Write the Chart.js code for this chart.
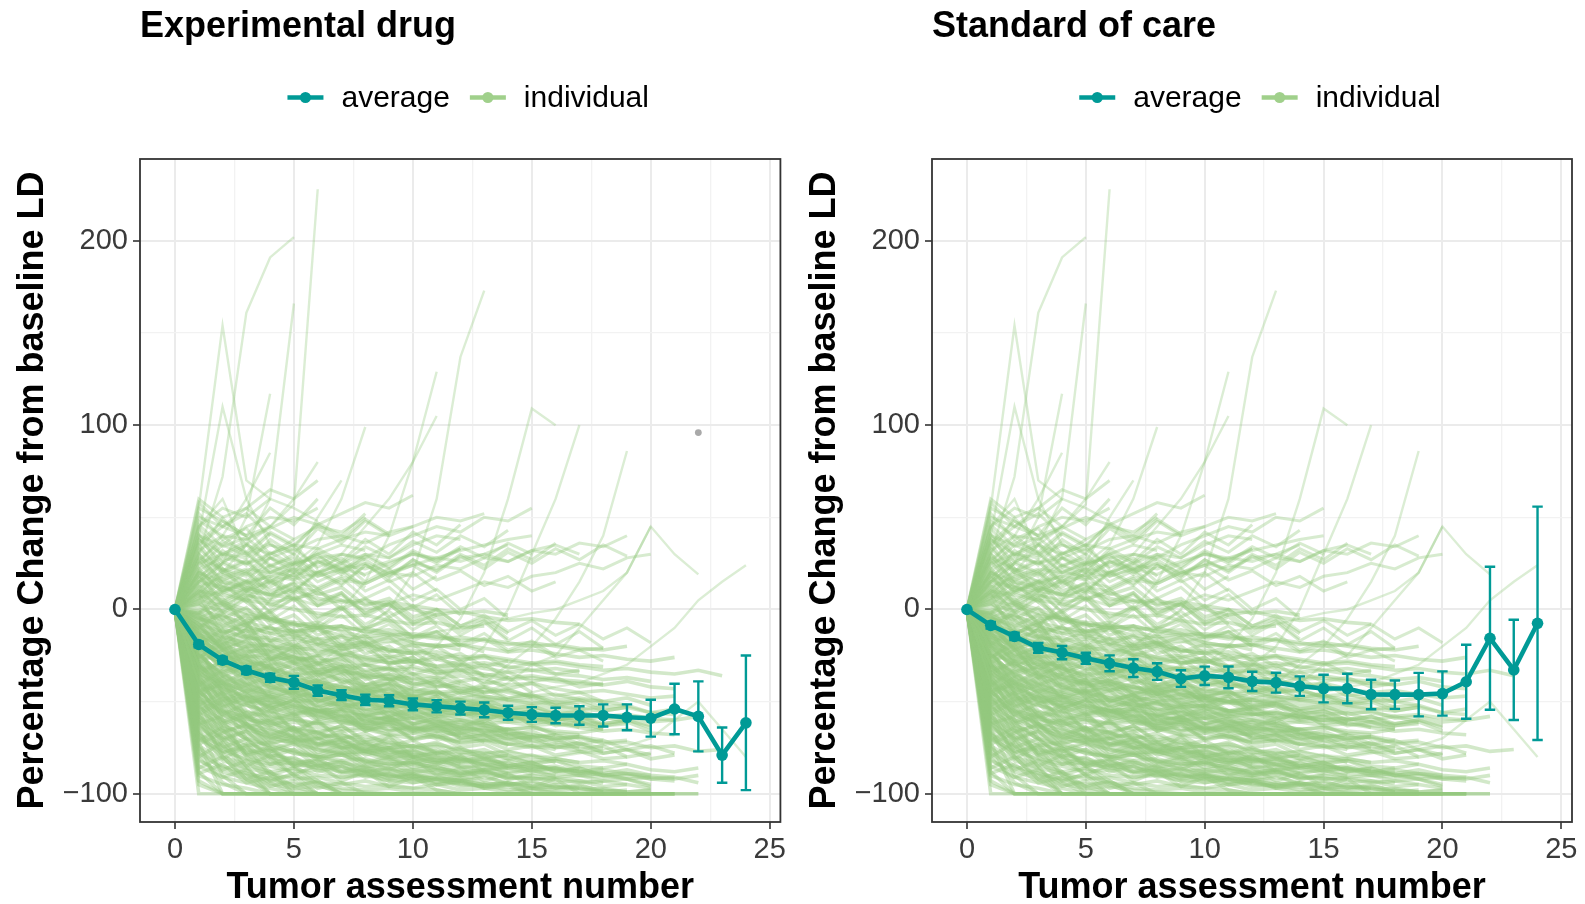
<!DOCTYPE html>
<html><head><meta charset="utf-8">
<script src="https://cdn.jsdelivr.net/npm/chart.js@4.4.1/dist/chart.umd.min.js"></script>
<style>
html,body{margin:0;padding:0;background:#fff;}
#wrap{position:relative;width:1585px;height:904px;overflow:hidden;background:#fff;}
canvas{position:absolute;top:0;}
#c1{left:0;width:792px;height:904px;}
#c2{left:792px;width:793px;height:904px;}
</style></head><body>
<div id="wrap"><canvas id="c1" width="792" height="904"></canvas><canvas id="c2" width="793" height="904"></canvas></div>
<script>
// ---------------- data ----------------
const panelTitles = ['Experimental drug', 'Standard of care'];
const legendLabels = ['average', 'individual'];
const xAxisTitle = 'Tumor assessment number';
const yAxisTitle = 'Percentage Change from baseline LD';
const assessmentNumbers = [0,1,2,3,4,5,6,7,8,9,10,11,12,13,14,15,16,17,18,19,20,21,22,23,24];
const xTickValues = [0,5,10,15,20,25];
const xTickLabels = ['0','5','10','15','20','25'];
const yTickValues = [-100,0,100,200];
const yTickLabels = ['\u2212100','0','100','200'];

// average % change and error-bar half widths
const expAverage = [0,-19,-27.5,-33,-37,-39.5,-44,-46.5,-49,-49.5,-51.5,-52.5,-53.5,-54.5,-56,-57,-57.5,-57.5,-57.5,-58.5,-59,-54,-58,-79,-61.5];
const expError   = [0,1.5,1.8,2,2.2,3.5,2.8,2.7,2.8,3,3.2,3.3,3.5,4,3.8,4,4.2,5,6,7,10,13.7,19,15,36.5];
const socAverage = [0,-8.6,-14.6,-20.8,-23.4,-26.5,-29.2,-31.8,-33.7,-37.5,-36,-36.8,-39,-39.7,-41.6,-42.9,-42.9,-46.1,-46.2,-46.2,-45.6,-39.2,-15.6,-32.8,-7.5];
const socError   = [0,1.8,2,2.7,3.6,3,4.3,4.8,4.5,4.5,5,5.9,5.2,5.4,5.3,7.5,8,8,7.7,11.8,12,20.1,38.8,27.2,63.3];
const expStrayPoint = [{x:22, y:96}];

// individual patient trajectories (value at assessment 0,1,2,...)
const completeResponders = [
 [0,-100,-100,-100,-100,-100,-100,-100,-100,-100,-100,-100,-100,-100,-100,-100,-100,-100,-100],
 [0,-72,-100,-100,-100,-100,-100,-100,-100,-100,-100,-100,-100,-100,-100,-100,-100,-100,-100,-100,-100,-100],
 [0,-55,-80,-92,-100,-100,-100,-100,-100,-100,-100,-100,-100,-100,-100,-100],
 [0,-40,-65,-78,-88,-100,-100,-100,-100,-100,-100,-100,-100,-100,-100,-100,-100,-100,-100,-100],
 [0,-88,-100,-100,-100,-100,-100,-100,-100,-100,-100,-100],
 [0,-30,-52,-70,-81,-90,-100,-100,-100,-100,-100,-100,-100,-100,-100,-100,-100,-100,-100,-100,-100,-100,-100],
 [0,-65,-90,-100,-100,-100,-100,-100,-100,-100,-100,-100,-100,-100,-100,-100,-100,-100,-100,-100,-100],
 [0,-45,-70,-85,-100,-100,-100,-100,-100,-100,-100,-100,-100,-100,-100,-100,-100,-100],
 [0,-20,-45,-62,-75,-85,-93,-100,-100,-100,-100,-100,-100,-100,-100,-100,-100,-100,-100,-100,-100],
 [0,-78,-94,-100,-100,-100,-100,-100,-100,-100,-100,-100,-100,-100,-100,-100,-100,-100,-100,-100,-100,-100,-100],
 [0,-50,-74,-87,-94,-100,-100,-100,-100,-100,-100,-100,-100,-100],
 [0,-35,-60,-80,-90,-96,-100,-100,-100,-100,-100,-100,-100,-100,-100,-100,-100,-100,-100,-100,-100,-100],
 [0,-93,-100,-100,-100,-100,-100,-100,-100],
 [0,-60,-78,-89,-100,-100,-100,-100,-100,-100,-100,-100,-100,-100,-100,-100,-100,-100,-100,-100,-100,-100]
];
const deepResponders = [
 [0,-48,-62,-70,-74,-78,-80,-83,-85,-86,-88,-87,-90,-89,-91,-92,-92,-94,-93,-95],
 [0,-58,-70,-76,-79,-81,-84,-83,-86,-88,-87,-89,-90,-88,-91,-90,-92],
 [0,-38,-55,-63,-70,-72,-76,-79,-78,-82,-84,-83,-86,-85,-88,-87,-89,-90,-91,-90,-92,-93],
 [0,-70,-80,-84,-88,-86,-90,-91,-89,-93,-94,-92,-95,-96,-94,-97,-96,-98,-97,-99,-98],
 [0,-30,-42,-55,-61,-66,-70,-68,-73,-75,-74,-78,-77,-80,-79,-82,-81,-83],
 [0,-52,-66,-73,-77,-76,-80,-82,-81,-84,-83,-86,-88,-87,-85],
 [0,-25,-40,-50,-58,-64,-67,-71,-74,-76,-79,-78,-81,-83,-82,-85,-86,-88,-87,-89,-90],
 [0,-62,-75,-82,-85,-88,-87,-91,-90,-93,-92,-95,-94,-96],
 [0,-44,-57,-64,-67,-72,-70,-75,-77,-76,-80,-82,-81,-84,-86,-85,-87,-89,-88],
 [0,-35,-48,-58,-65,-69,-73,-76,-75,-79,-81,-80,-84,-82,-85,-87,-86,-88,-90,-89,-91,-92,-90],
 [0,-66,-77,-81,-84,-83,-86,-88,-90,-89,-92,-91,-93,-95,-94,-96,-95,-97],
 [0,-28,-46,-57,-64,-70,-74,-72,-77,-80,-79,-82,-84],
 [0,-55,-63,-68,-72,-71,-75,-78,-77,-80,-81,-83,-82,-84,-86,-85,-87,-88,-86],
 [0,-42,-60,-71,-78,-82,-85,-84,-88,-90,-89,-92,-93,-91,-94],
 [0,-75,-85,-89,-92,-90,-94,-95,-93,-96,-97,-95,-98,-97,-99,-98,-99,-100,-98,-99]
];
const moderateResponders = [
 [0,-20,-32,-38,-42,-45,-48,-50,-52,-51,-54,-55,-57,-56,-58,-60,-59,-61,-62,-60,-63],
 [0,-35,-40,-44,-47,-50,-49,-52,-54,-53,-55,-57,-56,-58,-59],
 [0,-15,-25,-30,-35,-38,-40,-43,-42,-45,-47,-46,-49,-50,-52,-51,-53,-54,-55,-53,-56,-57],
 [0,-40,-48,-52,-55,-58,-57,-60,-62,-61,-64,-63,-66,-65,-67,-68,-70,-69],
 [0,-28,-36,-41,-45,-44,-48,-47,-50,-53,-52,-55,-54],
 [0,-10,-20,-28,-33,-37,-41,-44,-46,-48,-47,-50,-52,-51,-54,-53,-55,-56,-58,-57,-59,-60,-58],
 [0,-45,-52,-56,-58,-60,-62,-61,-63,-65,-64,-66,-68,-67,-69,-70],
 [0,-22,-30,-35,-38,-40,-42,-45,-44,-46,-48,-50,-49,-51],
 [0,-32,-42,-47,-51,-54,-56,-55,-58,-60,-59,-62,-61,-63,-65,-64,-66,-67,-65],
 [0,-18,-27,-33,-36,-40,-39,-42,-44,-43,-46,-45,-48,-47,-49,-51,-50,-52],
 [0,-38,-46,-50,-49,-53,-55,-54,-57,-56,-59,-58,-60,-62,-61,-63,-62,-64,-66,-65,-67,-68],
 [0,-25,-35,-40,-44,-43,-47,-49,-48,-51,-53],
 [0,-12,-22,-30,-37,-41,-45,-48,-51,-53,-52,-55,-57,-56,-58,-60,-59,-61,-63,-62],
 [0,-48,-55,-58,-62,-61,-64,-66,-65,-68,-67,-70,-72,-71,-73,-74,-73,-75],
 [0,-30,-38,-43,-46,-49,-52,-51,-54,-56,-55,-58,-57,-59,-61,-60,-62,-63,-64]
];
const stableDisease = [
 [0,-10,-15,-18,-20,-22,-21,-24,-26,-25,-28,-27,-30,-29,-31,-33,-32,-34],
 [0,-5,-8,-12,-10,-14,-16,-15,-18,-17,-20,-19,-22],
 [0,5,2,-3,-6,-8,-10,-9,-12,-14,-13,-15,-17,-16,-18,-20,-19,-21,-22,-20],
 [0,-18,-22,-25,-27,-26,-29,-31,-30,-33,-32,-35,-34,-36,-38,-37,-39,-40,-41,-39,-42,-43],
 [0,10,8,5,3,0,-2,-4,-3,-6,-8,-7,-10,-9],
 [0,-2,-6,-9,-13,-15,-18,-20,-19,-22,-24,-23,-26,-25,-27,-29,-28,-30,-31],
 [0,15,12,10,8,6,9,5,3,4,2,0,-2,-1,-3],
 [0,-12,-18,-20,-19,-23,-25,-24,-27,-29,-28,-31,-30,-32,-34,-33,-35,-36,-38,-37,-39],
 [0,-25,-28,-30,-29,-32,-34,-33,-36,-35,-38,-37,-40],
 [0,0,-4,-7,-10,-12,-11,-14,-16,-15,-18,-20,-19,-21,-23,-22,-24,-26,-25,-27,-28,-26],
 [0,8,3,-2,-5,-7,-9,-11,-10,-13,-15,-14,-17],
 [0,-15,-20,-23,-22,-26,-28,-27,-30,-32,-31,-34,-33,-35,-37,-36,-38,-39,-41],
 [0,20,15,12,8,10,6,4,5,2,0,-3,-1,-4,-6,-5,-7,-8],
 [0,-8,-12,-15,-17,-16,-19,-21,-20,-23,-22,-25,-27,-26,-28,-30,-29,-31,-33,-32,-34,-35,-33,-36],
 [0,3,-1,-5,-4,-8,-10,-9,-12,-11,-14,-16,-15,-17,-19,-18,-20,-22,-21]
];
const progressors = [
 [0,20,30,38,45,57,228],
 [0,30,72,161,191,202],
 [0,55,154,70,60,55,48],
 [0,40,110,60,35,30],
 [0,10,25,50,117],
 [0,15,20,35,60,166],
 [0,-10,0,10,15,25,35,60,99],
 [0,-20,-25,-30,-28,-20,-10,0,15,40,80,129],
 [0,-5,-10,-8,0,10,20,30,45,60,80,105],
 [0,-30,-40,-45,-40,-35,-30,-20,-10,0,20,60,137,173],
 [0,-25,-35,-40,-45,-48,-50,-48,-45,-40,-30,-20,-5,20,60,109,100],
 [0,-30,-40,-45,-50,-52,-55,-53,-50,-48,-45,-40,-30,-20,0,30,60,100],
 [0,-35,-50,-55,-58,-60,-62,-60,-58,-55,-52,-50,-45,-40,-30,-20,-5,15,40,86],
 [0,-40,-55,-60,-62,-65,-66,-64,-60,-58,-55,-50,-48,-45,-40,-30,-25,-10,5,20,45],
 [0,25,40,60,85],
 [0,45,60,30,20],
 [0,30,50,35,45,60,80],
 [0,-15,-20,-10,5,25,50,70],
 [0,-30,-45,-50,-52,-55,-57,-55,-58,-60,-58,-55,-52,-50,-48,-45,-42,-40,-35,-30,-20,-10,5,15,24],
 [0,-40,-55,-62,-65,-68,-70,-72,-71,-73,-75,-74,-76,-78,-77,-79,-80,-78,-76,-74,-70,-60,-50,-65,-80],
 [0,-20,-28,-32,-30,-28,-25,-22,-20,-18,-15,-12,-10,-8,-5,-2,0,5,10,20,45,30,19]
];
const coreTrajectories = [
 [0,-62,-58,-66,-70,-68,-72,-75,-73,-77,-80,-78],
 [0,-8,-22,-35,-41,-47,-52,-58,-60,-63,-66,-65,-69,-71,-70,-74,-76],
 [0,-33,-29,-37,-35,-40,-44,-42,-46,-49,-47,-50,-53,-52,-55,-57,-56,-60,-58,-61],
 [0,-82,-88,-92,-95,-97,-96,-98,-99,-100,-100,-100,-100,-100,-100,-100,-100,-100],
 [0,-4,-12,-10,-17,-21,-19,-25,-28,-26,-30],
 [0,-50,-57,-61,-60,-65,-67,-70,-69,-72,-74,-73,-76,-78,-77,-80,-81,-83,-82,-84],
 [0,-16,-24,-28,-31,-35,-34,-38,-41,-40,-43,-45,-44,-47,-49],
 [0,-68,-74,-79,-83,-85,-84,-88,-87,-90,-92,-91,-93,-95,-94,-96,-97,-96,-98,-99,-98],
 [0,2,-6,-14,-20,-26,-30,-33,-37,-36,-40,-42,-41,-45],
 [0,-42,-50,-46,-53,-57,-55,-60,-63,-61,-64,-66,-65,-68,-70,-69,-72,-73,-75],
 [0,-27,-34,-31,-38,-42,-40,-45,-47,-46,-49,-51,-50],
 [0,-56,-64,-70,-74,-78,-80,-79,-83,-85,-84,-87,-89,-88,-90,-92,-91,-93,-94],
 [0,-14,-18,-26,-24,-29,-33,-31,-36,-38,-37,-41,-43,-42,-45,-47,-46,-49,-50,-48,-52],
 [0,-36,-44,-49,-53,-56,-55,-59,-62,-61,-65,-64,-67,-69,-68,-71],
 [0,-90,-95,-97,-100,-100,-100,-100,-100,-100,-100,-100,-100,-100,-100,-100,-100,-100,-100,-100],
 [0,-6,-3,-9,-13,-11,-16,-19,-18,-22,-24],
 [0,-46,-54,-59,-63,-66,-69,-68,-72,-75,-74,-77,-79,-78,-81,-83,-82,-85,-86,-84,-87,-88,-86],
 [0,-21,-31,-37,-42,-46,-50,-53,-55,-58,-57,-61,-60,-63,-65,-64,-67,-68],
 [0,-74,-82,-86,-89,-92,-91,-94,-96,-95,-97,-98,-100,-100,-100,-100],
 [0,-11,-16,-21,-25,-28,-32,-35,-34,-38,-40,-39,-43,-45,-44,-47,-49,-48,-50,-52],
 [0,-58,-66,-63,-68,-71,-70,-74,-76,-75,-78],
 [0,-31,-39,-45,-50,-54,-58,-61,-64,-66,-65,-69,-71,-70,-73,-75,-74,-77,-78,-76,-79],
 [0,-2,4,0,-5,-9,-7,-12,-15,-13,-18,-20,-19,-23],
 [0,-52,-60,-65,-69,-73,-76,-78,-77,-81,-83,-82,-85,-87,-86,-89,-90],
 [0,-19,-27,-25,-32,-36,-34,-39,-42,-41,-44,-46,-45,-48,-50,-49,-52,-54,-53],
 [0,-39,-47,-52,-56,-59,-62,-65,-64,-68,-70,-69,-72],
 [0,-64,-72,-77,-81,-84,-86,-85,-89,-91,-90,-93,-94,-96,-95,-97,-98,-97,-99],
 [0,-24,-36,-43,-48,-52,-55,-57,-60,-59,-62,-64,-63,-66,-68],
 [0,-7,-14,-19,-23,-27,-26,-30,-33,-32,-35,-37,-36,-39,-41,-40,-43,-45,-44,-46,-48,-47],
 [0,-85,-91,-94,-97,-100,-100,-100,-100,-100,-100,-100,-100,-100],
 [0,-44,-41,-48,-52,-50,-55,-58,-57,-60,-62,-61,-64,-66,-65,-68,-70,-69,-71],
 [0,-29,-37,-42,-46,-45,-49,-52,-51,-55,-57,-56,-59,-61],
 [0,-70,-77,-75,-80,-83,-82,-86,-88,-87,-90,-92,-91,-94,-95,-94,-96,-97,-99,-98],
 [0,-13,-21,-27,-32,-36,-39,-42,-45,-44,-48,-50,-49,-53,-55,-54,-57],
 [0,-48,-56,-62,-66,-70,-73,-72,-76,-78,-77,-80,-82,-81,-84,-86,-85,-88,-89,-87,-90,-91],
 [0,-3,-10,-16,-15,-20,-23,-22,-26,-29,-28,-31],
 [0,-60,-69,-74,-72,-77,-80,-79,-82,-84,-83,-86,-88,-87,-89],
 [0,-34,-43,-48,-47,-52,-55,-54,-58,-60,-59,-63,-65,-64,-67,-69,-68,-70,-72,-71],
 [0,-17,-29,-36,-40,-44,-43,-47,-50,-49,-53,-55,-54,-57,-59,-58,-61],
 [0,-78,-86,-90,-93,-95,-94,-97,-98,-97,-99,-100,-100,-100,-100,-100,-100,-100,-100,-100,-100,-100]
];
const jaggedTrajectories = [
 [0,-12,-30,-25,-41,-38,-55,-49,-62,-58,-66,-61,-70,-68,-74],
 [0,-47,-39,-58,-52,-67,-60,-71,-77,-69,-80,-84,-79,-88],
 [0,8,-14,-6,-27,-20,-35,-31,-44,-40,-52,-47,-56,-61,-55,-63,-68],
 [0,-67,-81,-74,-90,-86,-95,-100,-100,-100,-100,-100,-100,-100,-100,-100,-100,-100,-100,-100],
 [0,-26,-19,-37,-30,-45,-41,-50,-46,-58,-53,-60,-64,-59,-67,-72,-70,-76,-74,-80,-78],
 [0,-3,-18,-11,-26,-33,-29,-40,-36,-47,-43],
 [0,-55,-48,-62,-71,-65,-78,-73,-82,-87,-81,-90,-86,-93,-89,-96,-92,-100],
 [0,17,6,-8,-2,-15,-10,-22,-18,-30,-26,-35,-32,-41,-37,-45],
 [0,-38,-52,-47,-60,-56,-68,-63,-72,-70,-77,-74,-81,-79,-85,-83,-88,-86,-90,-92,-95],
 [0,-80,-72,-85,-79,-90,-84,-93,-88,-96,-91,-98,-100,-100,-100],
 [0,-9,-21,-16,-28,-24,-36,-30,-41,-37,-48,-44,-53,-50,-57,-55,-60,-58,-63,-61,-66],
 [0,-32,-44,-39,-51,-47,-58,-54,-65,-61,-70],
 [0,30,14,4,-5,-12,-9,-20,-17,-26,-23,-31,-28,-36],
 [0,-60,-71,-66,-77,-73,-82,-78,-86,-83,-89,-87,-92,-90,-95,-93,-97,-95,-99],
 [0,-18,-34,-28,-43,-38,-50,-46,-57,-53,-62,-59,-67,-64,-71,-69,-75,-72,-78,-76,-81,-79],
 [0,-41,-33,-46,-54,-49,-60,-57,-66,-62,-71,-68,-75,-73,-79],
 [0,-95,-100,-100,-100,-100,-100,-100,-100,-100,-100,-100,-100,-100,-100,-100,-100,-100,-100,-100,-100],
 [0,4,-9,-3,-17,-12,-24,-19,-30,-27,-35,-32,-39,-37,-43,-40,-47,-45,-50],
 [0,-23,-40,-34,-49,-45,-56,-51,-61,-58,-65,-63,-69],
 [0,-71,-64,-78,-75,-84,-81,-88,-85,-91,-89,-94,-92,-97,-95,-100,-100,-100,-100],
 [0,22,9,15,2,8,-4,1,-10,-6,-15,-12,-20],
 [0,-49,-61,-56,-69,-64,-74,-70,-79,-76,-83,-80,-86,-84,-89,-87,-91,-90,-93,-92,-96],
 [0,-14,-26,-21,-34,-29,-39,-35,-46,-42,-51,-48,-55,-52,-59,-57,-62],
 [0,-86,-80,-92,-88,-96,-93,-100,-100,-100,-100,-100,-100],
 [0,-35,-28,-41,-36,-48,-44,-54,-50,-59,-56,-63,-61,-67,-65,-70,-68,-73,-71,-76,-74,-78],
 [0,-1,-13,-8,-22,-17,-29,-25,-34,-31,-39],
 [0,-58,-67,-62,-73,-69,-79,-75,-83,-80,-86,-84,-89,-87,-92,-90],
 [0,12,-2,6,-8,-3,-14,-9,-19,-15,-24,-20,-28,-25,-32,-29,-35,-33],
 [0,-44,-57,-51,-63,-59,-70,-66,-75,-72,-79,-76,-82,-80,-85,-83,-88,-86,-90,-89,-92,-91,-94],
 [0,-27,-15,-33,-26,-40,-35,-46,-42,-51,-48,-55],
 [0,-76,-87,-82,-93,-89,-97,-94,-100,-100,-100,-100,-100,-100,-100,-100,-100,-100,-100,-100,-100],
 [0,-20,-31,-26,-38,-33,-44,-40,-49,-46,-53,-50,-57,-55,-60,-58,-63,-61,-65],
 [0,40,22,10,16,5,11,0,6,-4,2,-8],
 [0,-52,-45,-59,-55,-65,-61,-70,-67,-74,-71,-78,-75,-81,-79,-84,-82,-87],
 [0,-6,-19,-14,-27,-22,-33,-28,-38,-35,-42,-39,-46,-43,-49,-47,-52,-50,-55,-53],
 [0,-63,-75,-70,-80,-76,-85,-82,-88,-86,-91,-89,-94],
 [0,-30,-42,-37,-48,-44,-53,-49,-58,-55,-62,-59,-65,-62,-68,-66,-71,-69,-73,-72,-75,-74,-77,-76],
 [0,19,3,-7,-1,-13,-8,-18,-14,-23,-19,-27,-24,-31,-28],
 [0,-89,-84,-94,-91,-98,-100,-100,-100,-100,-100,-100,-100,-100,-100,-100,-100,-100],
 [0,-16,-28,-23,-35,-30,-41,-37,-46,-43,-50,-47,-54,-51,-57,-55,-60,-58,-62,-60,-64],
 [0,-45,-37,-51,-47,-57,-53,-62,-59,-66,-63,-69,-67,-72],
 [0,-10,-2,-15,-9,-20,-16,-25,-21,-29,-26,-33,-30,-36,-34,-39,-37,-42,-40],
 [0,-69,-78,-73,-84,-80,-88,-85,-91,-89,-94,-92,-96,-95,-98,-97,-100,-100,-100,-100,-100,-100],
 [0,-24,-36,-31,-44,-39,-50,-46,-55,-52,-59,-57,-63,-61,-66],
 [0,27,16,21,10,14,4,9,-2,3,-7,-3],
 [0,-37,-49,-44,-56,-52,-61,-58,-66,-63,-70,-67,-73,-71,-76,-74,-79,-77,-81,-80],
 [0,-53,-62,-58,-68,-64,-73,-70,-77,-75,-80,-78,-83,-81,-86],
 [0,-4,-16,-11,-23,-19,-30,-26,-36,-32,-41,-38,-45,-42,-48,-46,-51,-49,-53,-52,-56,-54],
 [0,-81,-91,-87,-96,-93,-100,-100,-100,-100,-100,-100,-100,-100,-100,-100],
 [0,-29,-22,-35,-31,-42,-38,-47,-44,-52,-49,-56,-53,-59,-57,-62,-60,-64],
 [0,9,-5,1,-12,-7,-19,-14,-24,-20,-29,-25,-33,-30,-37],
 [0,-57,-50,-64,-60,-70,-66,-75,-72,-79,-76,-82,-80,-85,-83,-88,-86,-90,-89,-92,-91],
 [0,-40,-53,-48,-61,-57,-67,-63,-71,-68,-75,-72,-78,-76,-81,-79,-83],
 [0,-13,-25,-20,-32,-28,-38,-34,-43,-40,-47,-44,-51,-48,-54,-52,-57,-55,-59,-58,-61,-60],
 [0,-73,-67,-79,-76,-85,-82,-89,-87,-92,-90,-95,-93,-97,-96,-100,-100,-100,-100,-100],
 [0,35,20,26,14,19,8,12,2,6,-4,0,-9,-5,-13],
 [0,-33,-46,-41,-54,-49,-59,-55,-64,-60,-67,-64,-70,-68,-73,-71,-75,-74,-77],
 [0,-19,-11,-24,-18,-29,-25,-34,-30,-38,-35,-42,-39,-45,-43,-48],
 [0,-62,-70,-66,-76,-72,-80,-77,-84,-81,-87,-85,-90,-88,-92,-91,-94,-93,-96,-95,-97],
 [0,-8,-22,-17,-30,-25,-36,-32,-41,-38,-45,-42]
];
const positiveTrajectories = [
 [0,25,30,28,35,32,38,40,36,42,45],
 [0,40,35,45,50,48,55],
 [0,12,18,22,20,25,28,30,27],
 [0,30,20,15,18,22,20,25,30,28,35,40,38],
 [0,50,45,40],
 [0,18,10,15,12,20,18,22,25,20,24,28,26,30,35],
 [0,35,45,55,65,60,70],
 [0,6,10,14,18,16,20,24,22,26,30,28,32,35,38,40],
 [0,22,28,25,30,35,33,38,42,40,45,50,48,52],
 [0,45,55,50,60],
 [0,28,22,18,24,20,26,22,19,25,30,27,33],
 [0,15,25,35,30,38,45,42,50],
 [0,38,30,25,28,24,30,35,32],
 [0,10,5,12,8,15,12,18,14,20,25,22,28,30,26,32,35,30],
 [0,55,48,40,45,38],
 [0,5,15,10,20,18,25,30,28,35,40,45,42,50,48,55],
 [0,20,12,8,4,6,2,5,0,3,8,5,10,15,12,18,20,25,22,28,30],
 [0,60,50,55,45],
 [0,32,40,38,44,50,46,52,58,55,62],
 [0,-5,2,8,5,12,10,16,14,20,18,24,22,28,26,32,30,36,34,40],
 [0,44,30,36,24,28,18,22,12],
 [0,16,32,24,38,30,44,36,48,40],
 [0,52,38,44,30,35,22],
 [0,7,22,15,28,20,33,26,38,30,42,35,46],
 [0,26,12,20,8,14,2,9,-4,3,-8,-2,-12,-6,-16],
 [0,36,48,40,55,46,60],
 [0,14,4,11,-2,6,-7,1,-11,-4,-15,-9,-19,-13,-22,-17,-25],
 [0,48,40,30,36,25,30,20,25,15,20,10],
 [0,3,12,6,17,10,21,14,24,18,27,21,30,24,33,27,36],
 [0,58,45,52,40],
 [0,23,35,29,41,34,47,40,52],
 [0,11,-1,7,-6,2,-10,-3,-14,-8,-17,-12,-20,-16,-23,-19,-26,-22,-28]
];
const elevatedTrajectories = [
 [0,18,26,20,31,24,29,22,27,19,24,16,21,13,18,10,15],
 [0,33,21,27,15,22,11,17,6,12,1,8,-3],
 [0,9,19,13,24,17,27,21,30,23,32,26,34,28,36,30],
 [0,41,29,35,23,30,19,26,15,22,11,18],
 [0,-2,10,4,15,9,20,13,24,17,27,20,29,22,31,25,33,27,35,29],
 [0,27,37,31,42,35,46,38,49,41],
 [0,13,3,9,-1,6,-5,2,-8,-1,-11,-4,-14,-7,-17,-10,-19,-12,-21],
 [0,38,26,31,20,26,15,21,10,16,5,11,0,6,-5],
 [0,6,17,11,22,16,26,19,29,22,31,25,33],
 [0,21,10,16,6,12,2,8,-2,4,-6,0,-9,-3,-12,-6,-14,-8,-16,-10,-18],
 [0,46,34,39,28,33,23,28,18],
 [0,15,25,19,28,22,31,25,34,28,37,31,40,34,43]
];

// ---------------- styling ----------------
const FONT = "'Liberation Sans', Arial, Helvetica, sans-serif";
const TEAL = '#009A96';
const GREEN_CORE = 'rgba(148,201,126,0.42)';
const GREEN_MID = 'rgba(150,202,128,0.38)';
const GREEN_LINE = 'rgba(150,202,128,0.34)';
const GREEN_KEY = '#A0D08B';

const denseGroups = [completeResponders, deepResponders, moderateResponders, stableDisease,
  coreTrajectories, jaggedTrajectories];
const midGroups = [positiveTrajectories, elevatedTrajectories];
const sparseGroups = [progressors];

function toPoints(values){ return values.map((y,i)=>({x: assessmentNumbers[i], y})); }

function errorBarPoints(avg, err){
  const pts = [];
  avg.forEach((m,i)=>{
    if (!err[i]) return;
    const x = assessmentNumbers[i];
    pts.push({x, y: m - err[i]}, {x, y: m + err[i]}, {x, y: null});
  });
  return pts;
}
function errorCapPoints(avg, err){
  const pts = [], hw = 0.22;
  avg.forEach((m,i)=>{
    if (!err[i]) return;
    const x = assessmentNumbers[i];
    [m - err[i], m + err[i]].forEach(v=>{
      pts.push({x: x - hw, y: v}, {x: x + hw, y: v}, {x, y: null});
    });
  });
  return pts;
}

const decorPlugin = {
  id: 'panelDecor',
  afterDatasetsDraw(chart){
    const {ctx, chartArea: a} = chart;
    ctx.save();
    ctx.strokeStyle = '#333333';
    ctx.lineWidth = 1.8;
    ctx.strokeRect(a.left, a.top, a.right - a.left, a.bottom - a.top);
    ctx.restore();
  },
  afterDraw(chart, args, opts){
    const {ctx, chartArea: a} = chart;
    ctx.save();
    ctx.fillStyle = '#000';
    ctx.textBaseline = 'middle';
    ctx.textAlign = 'left';
    ctx.font = 'bold 36px ' + FONT;
    ctx.fillText(opts.title, a.left, 27.5);
    ctx.font = '30px ' + FONT;
    const colors = [TEAL, GREEN_KEY];
    const keyW = 36, gapKey = 18, gapItem = 20, y = 97.5;
    let total = 0;
    legendLabels.forEach((l,i)=>{ total += keyW + gapKey + ctx.measureText(l).width + (i < legendLabels.length-1 ? gapItem : 0); });
    let x = (a.left + a.right)/2 + 8 - total/2;
    legendLabels.forEach((l,i)=>{
      ctx.strokeStyle = colors[i]; ctx.lineWidth = 4.5;
      ctx.beginPath(); ctx.moveTo(x, y); ctx.lineTo(x + keyW, y); ctx.stroke();
      ctx.fillStyle = colors[i];
      ctx.beginPath(); ctx.arc(x + keyW/2, y, 5.5, 0, Math.PI*2); ctx.fill();
      x += keyW + gapKey;
      ctx.fillStyle = '#000';
      ctx.fillText(l, x, y + 1);
      x += ctx.measureText(l).width + gapItem;
    });
    ctx.restore();
  }
};

function makeChart(canvasId, title, avg, err, stray, rightPad){
  const datasets = [
    { type:'line', data: toPoints(avg), borderColor: TEAL, borderWidth: 4.6,
      pointRadius: 5.8, pointBackgroundColor: TEAL, pointBorderWidth: 0, tension: 0 },
    { type:'line', data: errorBarPoints(avg, err), borderColor: TEAL, borderWidth: 2.4,
      pointRadius: 0, spanGaps: false },
    { type:'line', data: errorCapPoints(avg, err), borderColor: TEAL, borderWidth: 2.4,
      pointRadius: 0, spanGaps: false }
  ];
  if (stray) datasets.push({ type:'scatter', data: stray, pointRadius: 3.4,
      pointBackgroundColor: 'rgba(140,140,140,0.75)', pointBorderWidth: 0 });
  sparseGroups.forEach(g => g.forEach(tr => datasets.push({ type:'line', data: toPoints(tr),
      borderColor: GREEN_LINE, borderWidth: 2.4, pointRadius: 0, tension: 0 })));
  midGroups.forEach(g => g.forEach(tr => datasets.push({ type:'line', data: toPoints(tr),
      borderColor: GREEN_MID, borderWidth: 3, pointRadius: 0, tension: 0 })));
  denseGroups.forEach(g => g.forEach(tr => datasets.push({ type:'line', data: toPoints(tr),
      borderColor: GREEN_CORE, borderWidth: 3.6, pointRadius: 0, tension: 0 })));

  const tickFont = { family: FONT, size: 29, lineHeight: 1 };
  const titleFontX = { family: FONT, size: 36, weight: 'bold', lineHeight: 0.9 };
  const titleFontY = { family: FONT, size: 36, weight: 'bold', lineHeight: 1 };
  return new Chart(document.getElementById(canvasId), {
    type: 'line',
    data: { datasets },
    options: {
      responsive: false, animation: false, events: [],
      layout: { padding: { left: 0, right: rightPad, top: 159, bottom: 0 } },
      plugins: { legend: { display: false }, tooltip: { enabled: false },
                 panelDecor: { title } },
      scales: {
        x: {
          type: 'linear', min: -1.47, max: 25.45,
          afterFit(s){ s.height = 82; },
          border: { display: false },
          grid: {
            color: c => (c.tick && c.tick.value % 5 === 0) ? '#EBEBEB' : '#F2F2F2',
            lineWidth: c => (c.tick && c.tick.value % 5 === 0) ? 2 : 1.3,
            tickColor: c => (c.tick && c.tick.value % 5 === 0) ? '#333333' : 'rgba(0,0,0,0)',
            tickLength: 7, tickWidth: 1.6
          },
          ticks: {
            stepSize: 2.5, includeBounds: false, autoSkip: false, maxRotation: 0,
            font: tickFont, color: '#3A3A3A', padding: 6,
            callback: v => { const i = xTickValues.indexOf(v); return i >= 0 ? xTickLabels[i] : ''; }
          },
          title: { display: true, text: xAxisTitle, font: titleFontX, color: '#000',
                   padding: { top: 0, bottom: 0 } }
        },
        y: {
          type: 'linear', min: -115.3, max: 244.4,
          afterFit(s){ s.width = 140; },
          border: { display: false },
          grid: {
            color: c => (c.tick && c.tick.value % 100 === 0) ? '#EBEBEB' : '#F2F2F2',
            lineWidth: c => (c.tick && c.tick.value % 100 === 0) ? 2 : 1.3,
            tickColor: c => (c.tick && c.tick.value % 100 === 0) ? '#333333' : 'rgba(0,0,0,0)',
            tickLength: 7, tickWidth: 1.6
          },
          ticks: {
            stepSize: 50, includeBounds: false, autoSkip: false,
            font: tickFont, color: '#3A3A3A', padding: 5,
            callback: v => { const i = yTickValues.indexOf(v); return i >= 0 ? yTickLabels[i] : ''; }
          },
          title: { display: true, text: yAxisTitle, font: titleFontY, color: '#000',
                   padding: { top: 15, bottom: 0 } }
        }
      }
    },
    plugins: [decorPlugin]
  });
}

makeChart('c1', panelTitles[0], expAverage, expError, expStrayPoint, 10);
makeChart('c2', panelTitles[1], socAverage, socError, null, 13);
</script>
</body></html>
